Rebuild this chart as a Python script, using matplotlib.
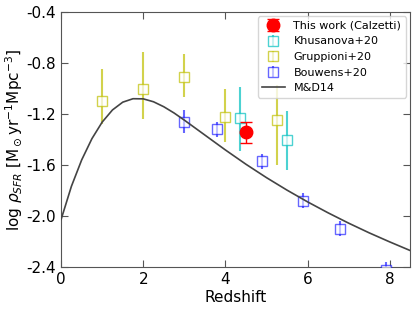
import numpy as np
import matplotlib
matplotlib.use("Agg")
import matplotlib.pyplot as plt
from matplotlib import rcParams

params = {
    'font.family': 'DejaVu Sans',
    'font.size': 11,
    'axes.labelsize': 11,
    'xtick.labelsize': 11,
    'ytick.labelsize': 11,
    'legend.fontsize': 8,
}
rcParams.update(params)

# M&D14 curve
md_z = [0, 0.25, 0.5, 0.75, 1.0, 1.25, 1.5, 1.75, 2.0, 2.25, 2.5, 2.75, 3.0,
        3.5, 4.0, 4.5, 5.0, 5.5, 6.0, 6.5, 7.0, 7.5, 8.0, 8.5]
md_sfr = [-2.026, -1.767, -1.560, -1.393, -1.263, -1.168, -1.107, -1.080,
          -1.081, -1.104, -1.143, -1.192, -1.248, -1.365, -1.482, -1.594,
          -1.699, -1.797, -1.889, -1.975, -2.056, -2.132, -2.203, -2.271]

# this work
calz_z = [4.5]
calz_sfr = [-1.34]
calz_up = [0.08]
calz_lo = [0.09]

# Khusanova+20
khus_z = [4.35, 5.5]
khus_sfr = [-1.23, -1.40]
khus_up = [0.24, 0.22]
khus_lo = [0.26, 0.24]

# Gruppioni+20
grup_z = [1.0, 2.0, 3.0, 4.0, 5.25]
grup_sfr = [-1.10, -1.00, -0.91, -1.22, -1.25]
grup_up = [0.25, 0.29, 0.18, 0.22, 0.28]
grup_lo = [0.18, 0.24, 0.16, 0.20, 0.35]

# Bouwens+20
bouw_z = [3.0, 3.8, 4.9, 5.9, 6.8, 7.9]
bouw_sfr = [-1.26, -1.32, -1.57, -1.88, -2.10, -2.42]
bouw_err = [0.09, 0.06, 0.06, 0.06, 0.06, 0.06]

fig = plt.figure(figsize=(4.16, 3.09), dpi=100)
ax = fig.add_axes([0.147, 0.136, 0.839, 0.825])

h1 = ax.errorbar(calz_z, calz_sfr, yerr=[calz_lo, calz_up], fmt='o', c='red',
                 ms=9, capsize=4, elinewidth=1, zorder=5, label='This work (Calzetti)')
h2 = ax.errorbar(khus_z, khus_sfr, yerr=[khus_lo, khus_up], fmt='s', c='c',
                 mfc='white', ms=7, alpha=0.7, elinewidth=1.5, zorder=3, label='Khusanova+20')
h3 = ax.errorbar(grup_z, grup_sfr, yerr=[grup_lo, grup_up], fmt='s', c='y',
                 mfc='white', ms=7, alpha=0.7, elinewidth=1.5, zorder=3, label='Gruppioni+20')
h4 = ax.errorbar(bouw_z, bouw_sfr, yerr=bouw_err, fmt='s', c='b',
                 mfc='white', ms=7, alpha=0.6, elinewidth=1.5, zorder=3, label='Bouwens+20')
h5, = ax.plot(md_z, md_sfr, c='#444444', lw=1.2, zorder=4, label='M&D14')

ax.set_xlim(0, 8.5)
ax.set_ylim(-2.4, -0.4)
ax.set_xticks([0, 2, 4, 6, 8])
yt = np.arange(-2.4, -0.39, 0.4)
ax.set_yticks(yt)
ax.set_yticklabels(['%.1f' % v for v in yt])
ax.tick_params(direction='in', top=True, right=True, length=5, color='#555555')
for s in ax.spines.values():
    s.set_color('#555555')

ax.set_xlabel('Redshift', labelpad=2)
ax.set_ylabel(r'log $\rho_{SFR}$ [M$_\odot$yr$^{-1}$Mpc$^{-3}$]', labelpad=1)
ax.legend(handles=[h1, h2, h3, h4, h5], loc='upper right', borderaxespad=0.4)

fig.savefig('out.png', dpi=100)
